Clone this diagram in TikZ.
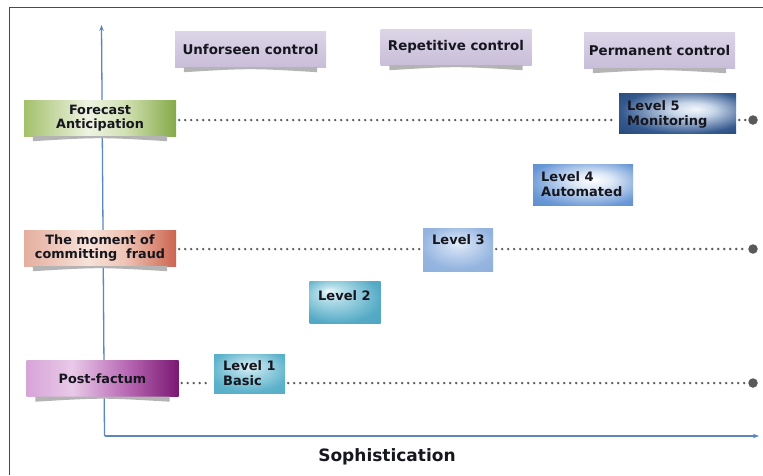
\documentclass[tikz,border=0pt]{standalone}
\usepackage{fontspec}
\setmainfont{DejaVu Sans}
\usetikzlibrary{arrows.meta}
\definecolor{axisblue}{HTML}{5B86BE}
\definecolor{framegray}{HTML}{4A4A4A}
\definecolor{dotgray}{HTML}{595959}
\definecolor{shadowgray}{HTML}{B4B4B4}
\definecolor{hdrtop}{HTML}{DCD5E7}
\definecolor{hdrbot}{HTML}{C8BED9}
\definecolor{txtdark}{HTML}{16161F}
% row label colours
\definecolor{fca}{HTML}{A3C06B}\definecolor{fcb}{HTML}{EEF3E2}\definecolor{fcc}{HTML}{D3E2B6}\definecolor{fcd}{HTML}{86A948}
\definecolor{moa}{HTML}{E4AE9E}\definecolor{mob}{HTML}{F7E2D9}\definecolor{moc}{HTML}{EFC5B6}\definecolor{mod}{HTML}{CC6550}
\definecolor{pfa}{HTML}{D7A4D7}\definecolor{pfb}{HTML}{E9C9E9}\definecolor{pfc}{HTML}{B868B4}\definecolor{pfd}{HTML}{7A1873}
% level colours
\definecolor{lfa}{HTML}{F4F7FB}\definecolor{lfb}{HTML}{C9D7EA}\definecolor{lfc}{HTML}{34598F}\definecolor{lfd}{HTML}{1D365D}
\definecolor{lqa}{HTML}{FFFFFF}\definecolor{lqb}{HTML}{DCE7F6}\definecolor{lqc}{HTML}{6A98D6}\definecolor{lqd}{HTML}{4F80C2}
\definecolor{lta}{HTML}{E6EEF9}\definecolor{ltb}{HTML}{C9DAF1}\definecolor{ltc}{HTML}{95B5E0}\definecolor{ltd}{HTML}{88ABDA}
\definecolor{lwa}{HTML}{EEF8FB}\definecolor{lwb}{HTML}{B6DFEA}\definecolor{lwc}{HTML}{55ABC6}\definecolor{lwd}{HTML}{4A9FBC}
\definecolor{loa}{HTML}{E4F3F8}\definecolor{lob}{HTML}{B3DDE9}\definecolor{loc}{HTML}{5DB2CB}\definecolor{lod}{HTML}{4FA6C0}
\pgfdeclarehorizontalshading{fcsh}{100bp}{color(0bp)=(fca); color(25bp)=(fca); color(46bp)=(fcb); color(58bp)=(fcc); color(75bp)=(fcd); color(100bp)=(fcd)}
\pgfdeclarehorizontalshading{mosh}{100bp}{color(0bp)=(moa); color(25bp)=(moa); color(46bp)=(mob); color(58bp)=(moc); color(75bp)=(mod); color(100bp)=(mod)}
\pgfdeclarehorizontalshading{pfsh}{100bp}{color(0bp)=(pfa); color(25bp)=(pfa); color(40bp)=(pfb); color(58bp)=(pfc); color(75bp)=(pfd); color(100bp)=(pfd)}
\pgfdeclareradialshading{lfsh}{\pgfpoint{8bp}{5bp}}{color(0bp)=(lfa); color(9bp)=(lfb); color(28bp)=(lfc); color(50bp)=(lfd)}
\pgfdeclareradialshading{lqsh}{\pgfpoint{6bp}{6bp}}{color(0bp)=(lqa); color(10bp)=(lqb); color(30bp)=(lqc); color(50bp)=(lqd)}
\pgfdeclareradialshading{ltsh}{\pgfpoint{0bp}{8bp}}{color(0bp)=(lta); color(8bp)=(ltb); color(26bp)=(ltc); color(50bp)=(ltd)}
\pgfdeclareradialshading{lwsh}{\pgfpoint{-12bp}{14bp}}{color(0bp)=(lwa); color(8bp)=(lwb); color(30bp)=(lwc); color(50bp)=(lwd)}
\pgfdeclareradialshading{losh}{\pgfpoint{0bp}{10bp}}{color(0bp)=(loa); color(8bp)=(lob); color(28bp)=(loc); color(50bp)=(lod)}
\newcommand\undershadow[1]{\fill[shadowgray] ([xshift=9pt]#1.south west) -- ([xshift=-9pt]#1.south east) -- ([xshift=-9pt,yshift=-5pt]#1.south east) .. controls ([yshift=-1pt]#1.south) .. ([xshift=9pt,yshift=-5pt]#1.south west) -- cycle;}
\tikzset{
  bfont/.style={font=\bfseries\fontsize{13}{15}\selectfont, text=txtdark},
  hdr/.style={font=\bfseries\fontsize{13.4}{15}\selectfont, text=txtdark, top color=hdrtop, bottom color=hdrbot, minimum width=151pt, minimum height=36pt, inner sep=0pt},
  rowlab/.style={text=txtdark, shade, minimum width=152pt, minimum height=36pt, inner sep=0pt, align=center, font=\bfseries\fontsize{12.8}{14}\selectfont},
  lvbox/.style={shade, inner sep=0pt},
  lvtxt/.style={bfont, inner sep=0pt, align=left, anchor=north west},
  axis/.style={draw=axisblue, line width=1.3pt, -{Stealth[length=6pt,width=4.5pt]}},
  dotline/.style={draw=dotgray, line width=2.6pt, line cap=round, dash pattern=on 0pt off 6pt, shorten <=3pt, shorten >=3pt},
  enddot/.style={circle, fill=dotgray, minimum size=9.5pt, inner sep=0pt}
}
\begin{document}
\begin{tikzpicture}[x=1pt,y=-1pt]
\useasboundingbox (0,0) rectangle (763,475);
\fill[white] (0,0) rectangle (763,475);
% frame
\draw[framegray, line width=1.6pt] (763,7.5) -- (9.5,7.5) -- (9.5,475);
% axes
\coordinate (org) at (104.5,436);
\coordinate (ytip) at (101.5,25);
\coordinate (xtip) at (759,436);
\draw[axis] (org) -- (ytip);
\draw[axis] (org) -- (xtip);
\node[font=\bfseries\fontsize{17}{19}\selectfont, text=txtdark] (soph) at (387,457) {Sophistication};
% column headers
\node[hdr] (hu) at (250.5,49) {Unforseen control};
\node[hdr] (hr) at (456,47) {Repetitive control};
\node[hdr] (hp) at (659.5,50) {Permanent control};
\undershadow{hu}\undershadow{hr}\undershadow{hp}
% row labels
\node[rowlab, shading=fcsh] (fc) at (100,118) {Forecast\\Anticipation};
\node[rowlab, shading=mosh] (mo) at (100,248) {The moment of\\committing\ \ fraud};
\node[rowlab, shading=pfsh] (pf) at (102.5,378.5) {Post-factum};
\undershadow{fc}\undershadow{mo}\undershadow{pf}
% level boxes
\node[lvbox, shading=lfsh, minimum width=117pt, minimum height=40pt] (l5) at (677.5,113) {};
\node[lvbox, shading=lqsh, minimum width=100pt, minimum height=41pt] (l4) at (583,184.5) {};
\node[lvbox, shading=ltsh, minimum width=70pt, minimum height=43pt] (l3) at (458,249.5) {};
\node[lvbox, shading=lwsh, minimum width=71pt, minimum height=42pt] (l2) at (345,302.5) {};
\node[lvbox, shading=losh, minimum width=71pt, minimum height=39pt] (l1) at (249.5,373.5) {};
\node[lvtxt] (t5) at (627,100) {Level 5\\Monitoring};
\node[lvtxt] (t4) at (541,171) {Level 4\\Automated};
\node[lvtxt] (t3) at (432,234) {Level 3};
\node[lvtxt] (t2) at (318,290) {Level 2};
\node[lvtxt] (t1) at (223,360) {Level 1\\Basic};
% dotted rows
\coordinate (r1) at (0,120);
\coordinate (r2) at (0,249);
\coordinate (r3) at (0,383);
\node[enddot] (d1) at (753,120) {};
\node[enddot] (d2) at (753,249) {};
\node[enddot] (d3) at (753,383) {};
\draw[dotline] (fc.east |- r1) -- (l5.west |- r1);
\draw[dotline, shorten >=0pt] (l5.east |- r1) -- (d1);
\draw[dotline] (mo.east |- r2) -- (l3.west |- r2);
\draw[dotline, shorten >=0pt] (l3.east |- r2) -- (d2);
\draw[dotline] (pf.east |- r3) -- (l1.west |- r3);
\draw[dotline, shorten >=0pt] (l1.east |- r3) -- (d3);
\end{tikzpicture}
\end{document}
